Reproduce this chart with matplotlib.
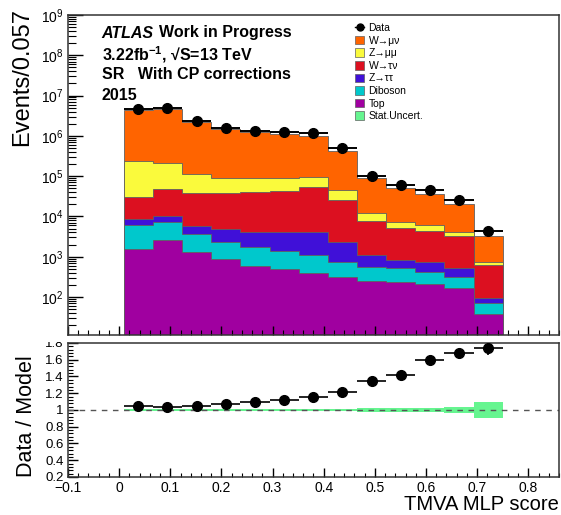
import numpy as np
import matplotlib
matplotlib.use("Agg")
import matplotlib.pyplot as plt
from matplotlib.patches import Patch, Rectangle
from matplotlib.lines import Line2D
from matplotlib.ticker import MultipleLocator, LogLocator, NullFormatter

plt.rcParams["font.family"] = ["Liberation Sans", "DejaVu Sans"]
plt.rcParams["mathtext.fontset"] = "custom"
plt.rcParams["mathtext.rm"] = "Liberation Sans"
plt.rcParams["mathtext.bf"] = "Liberation Sans:bold"
plt.rcParams["mathtext.it"] = "Liberation Sans:italic"

# binning of the MLP score
bin_lo = 0.009
bin_width = 0.057
n_bins = 13

# stacked backgrounds, bottom to top
top = [1585, 2565, 1312, 879, 600, 497, 402, 308, 250, 236, 207, 164, 38]
diboson = [4570, 4870, 2360, 1490, 1180, 893, 672, 445, 316, 280, 204, 144, 34]
z_tautau = [2360, 3040, 2230, 2440, 2270, 2800, 2930, 1510, 538, 314, 317, 208, 24]
w_taunu = [22500, 37700, 33100, 32900, 35900, 39600, 49100, 23800, 6770, 4260, 3640, 2760, 527]
z_mumu = [212000, 162000, 74800, 54300, 49100, 48300, 44400, 20200, 4550, 2340, 1785, 765, 130]
w_munu = [4.19e6, 4.48e6, 2.08e6, 1.40e6, 1.15e6, 1.05e6, 9.19e5, 3.66e5, 7.66e4, 4.28e4, 2.95e4, 1.61e4, 2530]

data = [4.6e6, 4.85e6, 2.3e6, 1.6e6, 1.35e6, 1.28e6, 1.17e6, 5.0e5, 1.03e5, 6.07e4, 4.55e4, 2.57e4, 4370]

# lower panel
ratio = [1.051, 1.036, 1.047, 1.071, 1.091, 1.122, 1.158, 1.213, 1.351, 1.422, 1.600, 1.679, 1.746]
ratio_err = [0.002, 0.002, 0.002, 0.003, 0.003, 0.003, 0.003, 0.005, 0.01, 0.012, 0.015, 0.02, 0.09]
stat_unc = [0.008, 0.008, 0.008, 0.008, 0.008, 0.008, 0.008, 0.008, 0.02, 0.02, 0.02, 0.035, 0.1]

labels = ["Top", "Diboson", "Z\u2192\u03c4\u03c4", "W\u2192\u03c4\u03bd", "Z\u2192\u03bc\u03bc", "W\u2192\u03bc\u03bd"]
colors = ["#a000a0", "#00c8cc", "#4010d8", "#dc1020", "#fafa3c", "#ff6400"]
unc_color = "#66f590"

edges = bin_lo + bin_width * np.arange(n_bins + 1)
centers = 0.5 * (edges[:-1] + edges[1:])

fig = plt.figure(figsize=(5.61, 5.15), dpi=100)
ax = fig.add_axes([0.1212, 0.3495, 0.8752, 0.6214])
ax2 = fig.add_axes([0.1212, 0.0738, 0.8752, 0.2602])

# stack
comps = np.array([top, diboson, z_tautau, w_taunu, z_mumu, w_munu], dtype=float)
cum = np.cumsum(comps, axis=0)
for i in reversed(range(len(comps))):
    ax.stairs(cum[i], edges, baseline=1, fill=True, facecolor=colors[i],
              edgecolor="#606060", lw=0.6)

ax.errorbar(centers, data, xerr=bin_width / 2, fmt="o", color="k", ms=7,
            elinewidth=1.4, capsize=0, zorder=5)

ax.set_yscale("log")
ax.set_xlim(-0.1, 0.86)
ax.set_ylim(11.4, 1e9)
ax.yaxis.set_major_locator(LogLocator(base=10, numticks=20))
ax.yaxis.set_minor_locator(LogLocator(base=10, subs=np.arange(2, 10), numticks=20))
ax.yaxis.set_minor_formatter(NullFormatter())
ax.xaxis.set_major_locator(MultipleLocator(0.1))
ax.xaxis.set_minor_locator(MultipleLocator(0.02))
ax.tick_params(axis="y", which="major", direction="in", length=11, width=1, labelsize=10, pad=3)
ax.tick_params(axis="y", which="minor", direction="in", length=5.8, width=0.8)
ax.tick_params(axis="x", which="major", direction="in", length=6.5, width=1, labelbottom=False)
ax.tick_params(axis="x", which="minor", direction="in", length=3.6, width=0.8)
for s in ax.spines.values():
    s.set_color("#333333")
    s.set_linewidth(1.1)

fig.text(22 / 561, 1 - 8 / 515, "Events/0.057", rotation=90, ha="center", va="top", fontsize=17)

# legend
handles = [Line2D([0], [0], marker="o", color="k", ms=5, lw=1)]
handles += [Patch(facecolor=colors[i], edgecolor="#606060", lw=0.5) for i in reversed(range(len(comps)))]
handles += [Patch(facecolor=unc_color, edgecolor="#606060", lw=0.5)]
leg_labels = ["Data"] + labels[::-1] + ["Stat.Uncert."]
fig.legend(handles, leg_labels, loc="upper left", bbox_to_anchor=(355 / 561, 1 - 23 / 515),
           frameon=False, fontsize=7.5, handlelength=0.9, handleheight=0.9,
           handletextpad=0.4, labelspacing=0.25, borderpad=0, borderaxespad=0)

# labels
fs = 11.5
fig.text(101 / 561, 1 - 33 / 515, "ATLAS", fontsize=fs, weight="bold", style="italic", va="center")
fig.text(159 / 561, 1 - 33 / 515, "Work in Progress", fontsize=fs, weight="bold", va="center")
fig.text(102 / 561, 1 - 55 / 515, "3.22fb$^{\\mathbf{-1}}$, \u221aS=13 TeV", fontsize=fs, weight="bold", va="center")
fig.text(102 / 561, 1 - 75 / 515, "SR   With CP corrections", fontsize=fs, weight="bold", va="center")
fig.text(102 / 561, 1 - 95 / 515, "2015", fontsize=fs, weight="bold", va="center")

# ratio panel
ax2.bar(centers, 2 * np.array(stat_unc), bottom=1 - np.array(stat_unc), width=bin_width,
        color=unc_color, lw=0)
ax2.axhline(1, color="#555555", ls=(0, (4, 4)), lw=1)
ax2.errorbar(centers, ratio, xerr=bin_width / 2, yerr=ratio_err, fmt="o", color="k", ms=7,
             elinewidth=1.2, capsize=0, zorder=5)
ax2.set_xlim(-0.1, 0.86)
ax2.set_ylim(0.2, 1.8)
ax2.yaxis.set_major_locator(MultipleLocator(0.2))
ax2.yaxis.set_minor_locator(MultipleLocator(0.04))
ax2.xaxis.set_major_locator(MultipleLocator(0.1))
ax2.xaxis.set_minor_locator(MultipleLocator(0.02))
ax2.yaxis.set_major_formatter(lambda v, p: f"{v:g}")
ax2.xaxis.set_major_formatter(lambda v, p: f"{v:g}".replace("-", "\u2212"))
ax2.tick_params(axis="y", which="major", direction="in", length=7, width=1, labelsize=9.5, pad=3)
ax2.tick_params(axis="y", which="minor", direction="in", length=3.6, width=0.8)
ax2.tick_params(axis="x", which="major", direction="in", length=6.5, width=1, labelsize=10, pad=3)
ax2.tick_params(axis="x", which="minor", direction="in", length=3.2, width=0.8)
for s in ax2.spines.values():
    s.set_color("#333333")
    s.set_linewidth(1.1)

fig.text(27 / 561, 1 - 416 / 515, "Data / Model", rotation=90, ha="center", va="center", fontsize=15.5)
fig.text(559 / 561, 1 - 505 / 515, "TMVA MLP score", ha="right", va="center", fontsize=14.5)

# upper pad hides the top of the 1.8 label
fig.add_artist(Rectangle((0, 1 - 342 / 515), 0.118, 0.02, transform=fig.transFigure,
                         facecolor="white", edgecolor="none", zorder=10))

fig.savefig("out.png", dpi=100)
